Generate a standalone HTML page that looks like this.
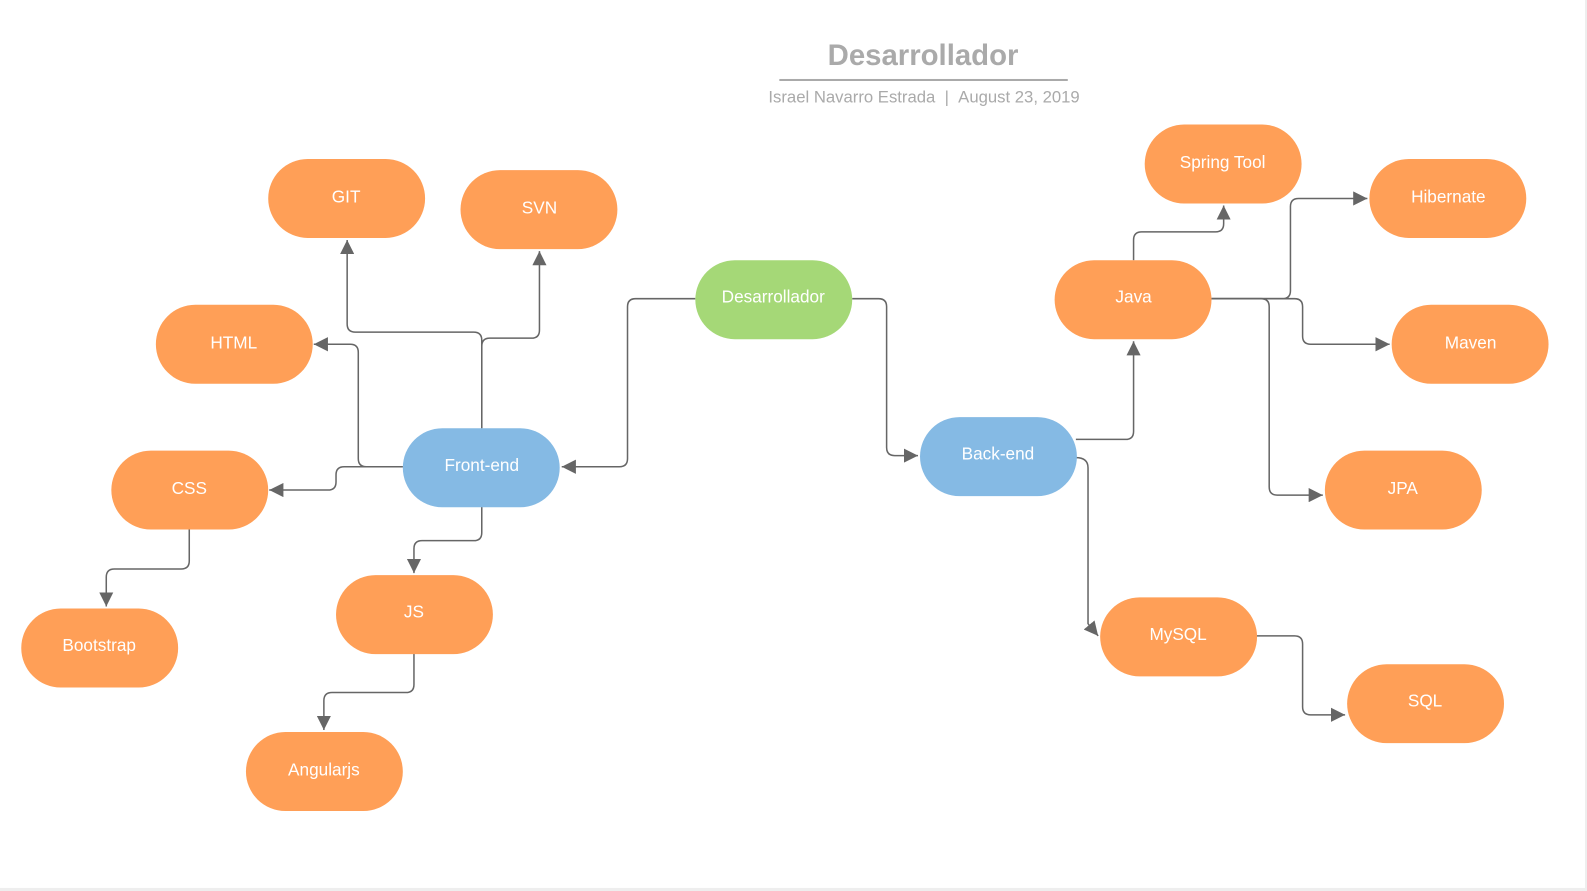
<!DOCTYPE html>
<html><head><meta charset="utf-8"><style>
html,body{margin:0;padding:0;background:#fff}
svg{display:block}
text{font-family:"Liberation Sans",sans-serif}
</style></head><body>
<svg width="1587" height="891" viewBox="0 0 1568 880" preserveAspectRatio="none" xmlns="http://www.w3.org/2000/svg">
<defs>
<marker id="a" viewBox="0 0 10 10" refX="10" refY="5" markerWidth="14" markerHeight="14" markerUnits="userSpaceOnUse" orient="auto">
<path d="M0,0 L10,5 L0,10 z" fill="#666"/>
</marker>
</defs>
<rect x="0" y="0" width="1568" height="880" fill="#fff"/>
<rect x="1566" y="0" width="2" height="880" fill="#eee"/>
<rect x="0" y="877" width="1568" height="3" fill="#eee"/>

<text x="912" y="64" text-anchor="middle" font-size="29" font-weight="bold" fill="#aaa">Desarrollador</text>
<rect x="770" y="78" width="285" height="2" fill="#aaa"/>
<text x="913" y="101" text-anchor="middle" font-size="16.5" fill="#aaa">Israel Navarro Estrada&#160;&#160;|&#160;&#160;August 23, 2019</text>

<g fill="none" stroke="#666" stroke-width="1.5" stroke-linejoin="round" marker-end="url(#a)">
<path d="M687,295 H628 Q620,295 620,303 V453 Q620,461 612,461 H555"/>
<path d="M842,295 H868 Q876,295 876,303 V442 Q876,450 884,450 H907"/>
<path d="M476,423 V336 Q476,328 468,328 H351 Q343,328 343,320 V237"/>
<path d="M476,423 V342 Q476,334 484,334 H525 Q533,334 533,326 V248"/>
<path d="M398,461 H362 Q354,461 354,453 V348 Q354,340 346,340 H310"/>
<path d="M398,461 H340 Q332,461 332,469 V476 Q332,484 324,484 H266"/>
<path d="M476,500 V526 Q476,534 468,534 H417 Q409,534 409,542 V566"/>
<path d="M187,522 V554 Q187,562 179,562 H113 Q105,562 105,570 V599"/>
<path d="M409,645 V676 Q409,684 401,684 H328 Q320,684 320,692 V721"/>
<path d="M1063,434 H1112 Q1120,434 1120,426 V337"/>
<path d="M1063,452 Q1075,452 1075,462 V616 L1085,628"/>
<path d="M1120,257 V237 Q1120,229 1128,229 H1201 Q1209,229 1209,221 V203"/>
<path d="M1197,295 H1267 Q1275,295 1275,287 V204 Q1275,196 1283,196 H1351"/>
<path d="M1197,295 H1279 Q1287,295 1287,303 V332 Q1287,340 1295,340 H1373"/>
<path d="M1197,295 H1246 Q1254,295 1254,303 V481 Q1254,489 1262,489 H1307"/>
<path d="M1241,628 H1279 Q1287,628 1287,636 V698 Q1287,706 1295,706 H1329"/>
</g>

<g font-size="17" fill="#fff" text-anchor="middle">
<rect x="265" y="157" width="155" height="78" rx="39" fill="#ff9f57"/><text x="342" y="200">GIT</text>
<rect x="455" y="168" width="155" height="78" rx="39" fill="#ff9f57"/><text x="533" y="211">SVN</text>
<rect x="154" y="301" width="155" height="78" rx="39" fill="#ff9f57"/><text x="231" y="344">HTML</text>
<rect x="110" y="445" width="155" height="78" rx="39" fill="#ff9f57"/><text x="187" y="488">CSS</text>
<rect x="21" y="601" width="155" height="78" rx="39" fill="#ff9f57"/><text x="98" y="643">Bootstrap</text>
<rect x="332" y="568" width="155" height="78" rx="39" fill="#ff9f57"/><text x="409" y="610">JS</text>
<rect x="243" y="723" width="155" height="78" rx="39" fill="#ff9f57"/><text x="320" y="766">Angularjs</text>
<rect x="398" y="423" width="155" height="78" rx="39" fill="#85bae4"/><text x="476" y="465">Front-end</text>
<rect x="687" y="257" width="155" height="78" rx="39" fill="#a5d877"/><text x="764" y="299">Desarrollador</text>
<rect x="909" y="412" width="155" height="78" rx="39" fill="#85bae4"/><text x="986" y="454">Back-end</text>
<rect x="1042" y="257" width="155" height="78" rx="39" fill="#ff9f57"/><text x="1120" y="299">Java</text>
<rect x="1131" y="123" width="155" height="78" rx="39" fill="#ff9f57"/><text x="1208" y="166">Spring Tool</text>
<rect x="1353" y="157" width="155" height="78" rx="39" fill="#ff9f57"/><text x="1431" y="200">Hibernate</text>
<rect x="1375" y="301" width="155" height="78" rx="39" fill="#ff9f57"/><text x="1453" y="344">Maven</text>
<rect x="1309" y="445" width="155" height="78" rx="39" fill="#ff9f57"/><text x="1386" y="488">JPA</text>
<rect x="1087" y="590" width="155" height="78" rx="39" fill="#ff9f57"/><text x="1164" y="632">MySQL</text>
<rect x="1331" y="656" width="155" height="78" rx="39" fill="#ff9f57"/><text x="1408" y="698">SQL</text>
</g>
</svg>
</body></html>
